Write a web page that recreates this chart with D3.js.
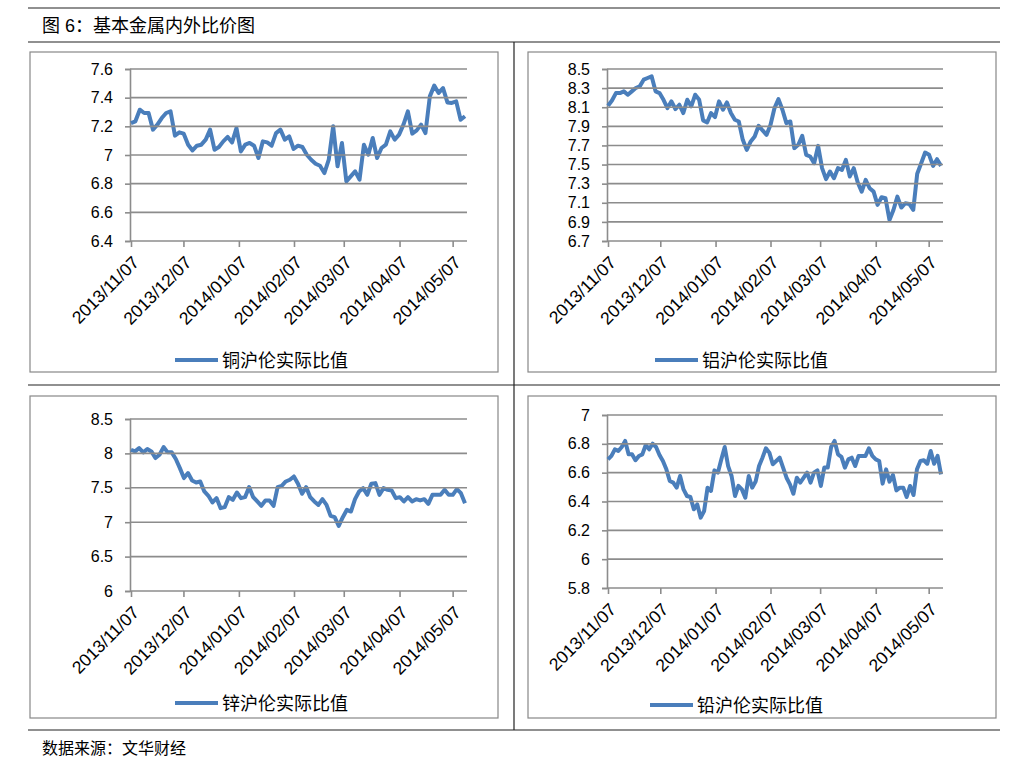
<!DOCTYPE html>
<html><head><meta charset="utf-8">
<script src="https://cdn.jsdelivr.net/npm/d3@7"></script>
<style>body{margin:0;background:#fff}text{font-family:"Liberation Sans","Noto Sans CJK SC",sans-serif}</style>
</head><body><svg id="c" width="1027" height="772"></svg>
<script>
const tickLabels=["2013/11/07","2013/12/07","2014/01/07","2014/02/07","2014/03/07","2014/04/07","2014/05/07"];
const tickFrac=[0,0.157,0.323,0.488,0.637,0.804,0.963];
const copper=[7.223,7.235,7.316,7.293,7.293,7.177,7.212,7.258,7.293,7.305,7.135,7.158,7.149,7.072,7.032,7.065,7.072,7.107,7.177,7.037,7.056,7.095,7.126,7.088,7.188,7.025,7.072,7.084,7.065,6.979,7.095,7.088,7.065,7.153,7.177,7.107,7.130,7.042,7.065,7.056,7.002,6.967,6.939,6.925,6.874,6.967,7.2,6.921,7.084,6.816,6.851,6.886,6.828,7.072,7.002,7.119,6.979,7.049,7.072,7.165,7.107,7.142,7.212,7.305,7.149,7.172,7.212,7.153,7.409,7.484,7.433,7.467,7.367,7.363,7.374,7.246,7.270];
const aluminium=[8.116,8.171,8.248,8.248,8.266,8.231,8.266,8.301,8.318,8.388,8.406,8.423,8.266,8.248,8.178,8.091,8.161,8.081,8.126,8.039,8.178,8.109,8.231,8.178,7.962,7.941,8.039,7.997,8.161,8.074,8.150,8.039,7.969,7.951,7.759,7.654,7.742,7.794,7.906,7.857,7.811,7.916,8.091,8.185,8.074,7.934,7.951,7.672,7.707,7.801,7.602,7.584,7.514,7.696,7.462,7.347,7.427,7.357,7.462,7.444,7.549,7.375,7.462,7.312,7.217,7.340,7.252,7.217,7.078,7.158,7.147,6.920,7.025,7.165,7.050,7.095,7.088,7.025,7.403,7.514,7.626,7.602,7.486,7.556,7.486];
const zinc=[8.053,8.029,8.078,8.015,8.063,8.029,7.932,7.981,8.092,8.015,8.015,7.918,7.786,7.641,7.714,7.607,7.578,7.592,7.447,7.384,7.287,7.350,7.204,7.219,7.364,7.325,7.432,7.350,7.364,7.510,7.364,7.301,7.238,7.316,7.316,7.238,7.510,7.529,7.592,7.617,7.665,7.558,7.413,7.510,7.364,7.301,7.252,7.335,7.252,7.092,7.073,6.947,7.073,7.180,7.155,7.335,7.447,7.495,7.398,7.558,7.568,7.398,7.495,7.471,7.461,7.350,7.364,7.301,7.364,7.301,7.335,7.316,7.335,7.267,7.398,7.398,7.398,7.471,7.398,7.398,7.481,7.422,7.277];
const lead=[6.692,6.716,6.762,6.750,6.778,6.820,6.727,6.727,6.686,6.716,6.727,6.792,6.762,6.801,6.778,6.723,6.681,6.623,6.542,6.531,6.496,6.577,6.484,6.438,6.431,6.346,6.380,6.288,6.334,6.496,6.473,6.616,6.600,6.692,6.778,6.646,6.577,6.438,6.508,6.484,6.427,6.577,6.496,6.538,6.646,6.704,6.769,6.739,6.658,6.681,6.704,6.635,6.565,6.519,6.454,6.565,6.531,6.565,6.600,6.531,6.600,6.616,6.508,6.635,6.635,6.778,6.820,6.727,6.709,6.635,6.692,6.704,6.646,6.716,6.716,6.716,6.769,6.716,6.692,6.681,6.524,6.623,6.538,6.584,6.477,6.496,6.496,6.431,6.508,6.445,6.623,6.681,6.686,6.662,6.750,6.662,6.716,6.588];
const panels=[
 {name:"铜沪伦实际比值",data:copper,min:6.4,max:7.6,step:0.2,fmt:d3.format(".1~f"),x0:130,x1:467,y0:69,y1:241,box:[30,52,468,320],leg:[175,360]},
 {name:"铝沪伦实际比值",data:aluminium,min:6.7,max:8.5,step:0.2,fmt:d3.format(".1f"),x0:607,x1:943,y0:69,y1:241,box:[528,52,468,320],leg:[655,360]},
 {name:"锌沪伦实际比值",data:zinc,min:6,max:8.5,step:0.5,fmt:d3.format(".1~f"),x0:130,x1:467,y0:419,y1:591,box:[30,396,468,322],leg:[175,703]},
 {name:"铅沪伦实际比值",data:lead,min:5.8,max:7,step:0.2,fmt:d3.format(".1~f"),x0:607,x1:943,y0:415,y1:588,box:[528,396,468,322],leg:[650,705]}
];
const svg=d3.select("#c");
const L=(x1,y1,x2,y2,w=1.2,c="#222")=>svg.append("line").attr("x1",x1).attr("y1",y1).attr("x2",x2).attr("y2",y2).attr("stroke",c).attr("stroke-width",w);
L(28,8,1000,8);L(28,42,1000,42);L(514,42,514,730);L(28,385,1000,385);L(28,730,1000,730);
svg.append("text").attr("x",42).attr("y",32).attr("font-size",18).text("图  6：基本金属内外比价图");
svg.append("text").attr("x",42).attr("y",754).attr("font-size",16).text("数据来源：文华财经");
panels.forEach(p=>{
 svg.append("rect").attr("x",p.box[0]).attr("y",p.box[1]).attr("width",p.box[2]).attr("height",p.box[3]).attr("fill","none").attr("stroke","#888").attr("stroke-width",1.2);
 const n=p.data.length;
 const x=d3.scaleLinear().domain([0,n-1]).range([p.x0+1,p.x1-2]);
 const y=d3.scaleLinear().domain([p.min,p.max]).range([p.y1,p.y0]);
 const yt=d3.range(p.min,p.max+p.step/2,p.step).map(v=>+v.toFixed(2));
 const g=svg.append("g");
 yt.forEach(v=>{ if(v>p.min) L(p.x0,y(v),p.x1,y(v),1.6,"#8c8c8c"); });
 g.append("g").attr("transform",`translate(${p.x0},0)`).call(d3.axisLeft(y).tickValues(yt).tickFormat(p.fmt).tickSize(5).tickPadding(12))
  .call(a=>{a.selectAll("text").attr("font-size",16).attr("fill","#000");a.selectAll("line,path").attr("stroke","#8c8c8c").attr("stroke-width",1.6);});
 const xt=tickFrac.map(f=>f*(n-1));
 const ax=g.append("g").attr("transform",`translate(0,${p.y1})`).call(d3.axisBottom(x).tickValues(xt).tickFormat((d,i)=>tickLabels[i]).tickSize(6).tickSizeOuter(0));
 ax.select("path").attr("d",`M${p.x0},0H${p.x1}`);
 ax.selectAll("line,path").attr("stroke","#8c8c8c").attr("stroke-width",1.6);
 ax.selectAll("text").attr("font-size",17.5).attr("fill","#000").attr("text-anchor","end").attr("dy","0.35em").attr("transform","translate(-2,12) rotate(-45)");
 g.append("path").datum(p.data).attr("fill","none").attr("stroke","#4a7ebb").attr("stroke-width",4).attr("stroke-linejoin","round")
  .attr("d",d3.line().x((d,i)=>x(i)).y(d=>y(d)));
 L(p.leg[0],p.leg[1],p.leg[0]+43,p.leg[1],4,"#4a7ebb");
 svg.append("text").attr("x",p.leg[0]+47).attr("y",p.leg[1]+7).attr("font-size",18).text(p.name);
});
</script></body></html>
